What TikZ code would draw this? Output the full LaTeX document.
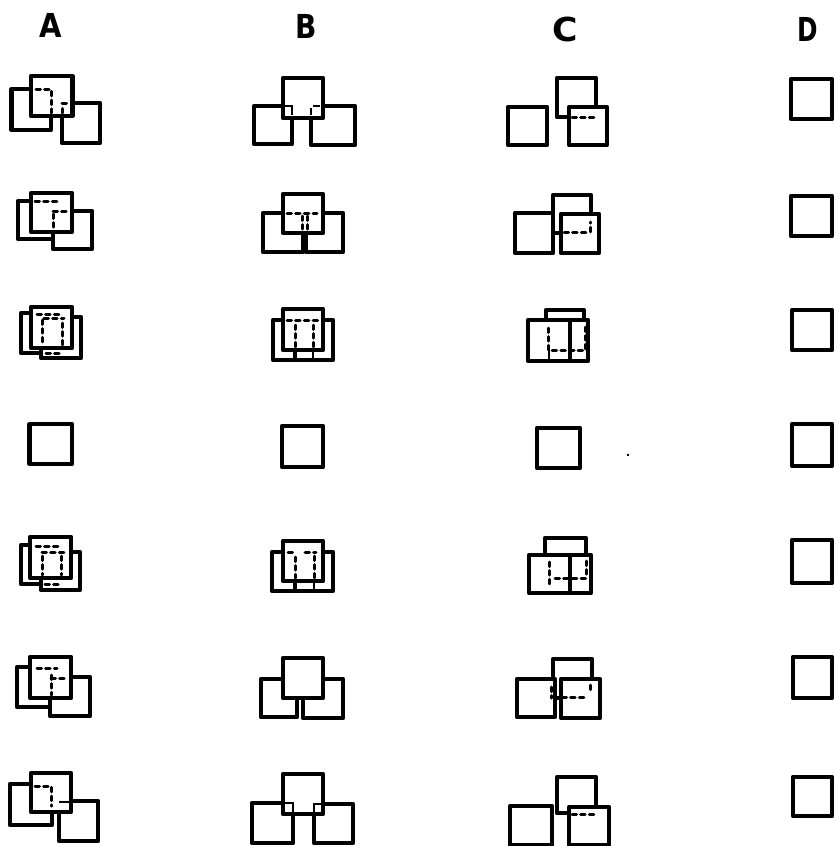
\documentclass[tikz,border=0pt]{standalone}
\usepackage{fontspec}
\setmainfont{Liberation Sans}
\newfontfamily\labfont{DejaVu Sans}
\tikzset{
  sqr/.style={draw=black,fill=white,line width=4.2pt,line join=round},
  hid/.style={draw=black,line width=3pt,dash pattern=on 4.5pt off 4.2pt,line cap=round},
  thn/.style={draw=black,line width=2.8pt},
  lab/.style={font=\fontsize{33}{33}\labfont\bfseries,inner sep=0pt,text=black}
}
\def\sq(#1,#2,#3,#4){\path[sqr] (#1,#2) rectangle (#3,#4);}
\begin{document}
\begin{tikzpicture}[x=1pt,y=-1pt]
\useasboundingbox (0,0) rectangle (833,846);
\fill[white] (0,0) rectangle (833,846);
% labels
\node[lab,xscale=.88] (la) at (51,25) {A};
\node[lab,xscale=.85] (lb) at (306,26) {B};
\node[lab,xscale=1.05] (lc) at (565,29) {C};
\node[lab,xscale=.75] (ld) at (808,29) {D};
% column A
\sq(11.5,89,51,130) \sq(62,103,100,143) \sq(31,76,72.5,116)
\path[hid] (36,89)--(51,89)--(51,113) (62,113)--(62,105) (62,103)--(70,103);
\sq(18,201,54,239) \sq(53,211,92,249) \sq(31,193,72,232)
\path[hid] (35,201.5)--(60,201.5) (53,214)--(53,229) (53,211)--(69,211);
\sq(21,313,62,353) \sq(41,317,81,358) \sq(31,307,72,348)
\path[hid] (37,314)--(63,314) (44,318)--(64,318) (42,320)--(42,345) (62,323)--(62,345);
\path[hid] (46,353)--(62,353);
\sq(29.5,424,72,464)
\sq(21,545,61,584) \sq(41,552,80,590) \sq(30,537,71,578)
\path[hid] (36,546)--(58,546) (42,552)--(65,552) (42,556)--(42,575) (61,556)--(61,575) (45,584)--(62,584);
\sq(17,667,51,707) \sq(50,677,90,716) \sq(30,657,71,698)
\path[hid] (37,668)--(57,668) (51,675)--(51,695) (51,678)--(66,678);
\sq(10,784,52,825) \sq(59,801,98,841) \sq(31,773,71,812)
\path[hid] (35,786)--(51,786)--(51,806);
\path[thn] (59,802)--(71,802);
% column B
\sq(254,106,292,144) \sq(311,106,355,145) \sq(283,78,323,118)
\path[thn] (284,106)--(292,106)--(292,115) (311,115)--(311,108) (313,106)--(320,106);
\sq(263,213,303,252) \sq(306,213,343,252) \sq(283,194,323,233)
\path[hid] (287,213)--(317,213) (302,216)--(302,230) (307,216)--(307,230);
\sq(273,320,313,360) \sq(295,320,333,360) \sq(283,309,323,350)
\path[hid] (287,320)--(320,320) (295,325)--(295,347) (313,325)--(313,347);
\path[thn] (313,350)--(313,360);
\sq(282,426,323,467)
\sq(272,552,314,591) \sq(295,552,333,591) \sq(283,541,323,581)
\path[hid] (288,552)--(296,552) (305,552)--(316,552) (295,557)--(295,578) (314,556)--(314,578);
\path[thn] (314,581)--(314,591);
\sq(261,679,297,717) \sq(303,679,343,718) \sq(283,658,323,698)
\sq(252,803,293,843) \sq(314,804,353,843) \sq(283,774,323,814)
\path[thn] (284,803)--(293,803)--(293,813) (314,813)--(314,804)--(323,804);
% column C
\sq(508,107,547,145) \sq(557,78,596,117) \sq(569,107,607,145)
\path[hid] (572,117)--(595,117);
\sq(515,213,553,253) \sq(553,195,591,233) \sq(561,214,599,253)
\path[hid] (564,232)--(590,232)--(590,222);
\sq(546,310,584,350) \sq(548,320,588,361) \sq(528,320,570,361)
\path[hid] (548,328)--(548,350)--(583,350) (585,327)--(585,350);
\path[thn] (549,350)--(549,360);
\sq(537,428,580,468)
\sq(545,538,586,578) \sq(549,555,591,593) \sq(529,555,570,593)
\path[hid] (549,562)--(549,588) (555,578)--(586,578)--(586,560);
\sq(553,659,592,698) \sq(517,679,555,717) \sq(561,679,600,718)
\path[hid] (562,697)--(588,697) (590,685)--(590,693) (551,687)--(551,698);
\path[thn] (555,697)--(561,697);
\sq(557,777,596,813) \sq(510,806,552,845) \sq(569,807,609,845)
\path[hid] (572,814)--(595,814);
% column D
\sq(791,79,832,119)
\sq(791,196,832,236)
\sq(792,310,832,350)
\sq(792,424,832,466)
\sq(792,540,832,583)
\sq(793,657,832,698)
\sq(793,777,832,816)
% speck
\fill[black] (626.5,454.3) rectangle (629,456);
\end{tikzpicture}
\end{document}
